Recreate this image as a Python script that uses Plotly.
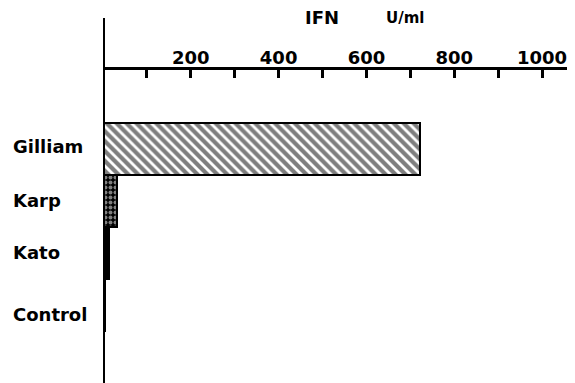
import plotly.graph_objects as go

categories = ["Gilliam", "Karp", "Kato", "Control"]
ifn_values = [722, 32, 14, 5]
tick_values = [100, 200, 300, 400, 500, 600, 700, 800, 900, 1000]
tick_labels = ["", "200", "", "400", "", "600", "", "800", "", "1000"]

FONT = "DejaVu Sans"

patterns = [
    dict(shape="\\", size=7, solidity=0.6, fgcolor="black", bgcolor="white"),
    dict(shape=".", size=5, solidity=0.5, fgcolor="white", bgcolor="black"),
    dict(shape="", fgcolor="black", bgcolor="black"),
    dict(shape="", fgcolor="black", bgcolor="black"),
]

fig = go.Figure()
for cat, val, pat in zip(categories, ifn_values, patterns):
    fig.add_trace(go.Bar(
        x=[val], y=[cat], orientation="h",
        marker=dict(color="black" if pat["shape"] == "" else "white",
                    pattern=pat,
                    line=dict(color="black", width=2)),
        showlegend=False, hoverinfo="skip",
    ))

# the page body adds an 8px offset, so the figure is 8px smaller on each side
fig.update_layout(
    width=567, height=375,
    margin=dict(l=95, r=0, t=62, b=0, autoexpand=False),
    paper_bgcolor="white", plot_bgcolor="white",
    bargap=0, barmode="overlay",
    font=dict(family=FONT, color="black"),
    xaxis=dict(
        range=[0, 1075], side="top", showgrid=False, zeroline=False,
        showline=True, linecolor="black", linewidth=3, automargin=False,
        tickvals=tick_values, ticktext=tick_labels,
        ticks="inside", ticklen=8, tickwidth=2.5, tickcolor="black",
        tickfont=dict(family=FONT, size=18, weight="bold", color="black"),
        ticklabelstandoff=-4,
    ),
    yaxis=dict(
        categoryorder="array", categoryarray=categories, automargin=False,
        range=[4.5, -1.52], showgrid=False, zeroline=False,
        showticklabels=False, showline=False, ticks="",
    ),
    shapes=[dict(type="line", xref="x", yref="paper", x0=0, x1=0,
                 y0=0, y1=1.166, line=dict(color="black", width=4))],
)

label_shift = {"Gilliam": 3, "Karp": 1, "Kato": 1, "Control": -9}
for cat in categories:
    fig.add_annotation(
        x=(3 - 95) / 472, xref="paper", y=cat, yref="y",
        text=cat, showarrow=False, xanchor="left", yanchor="middle",
        yshift=label_shift.get(cat, 0),
        font=dict(family=FONT, size=18, weight="bold", color="black"),
    )

fig.add_annotation(x=499, xref="x", y=1.168, yref="paper", text="IFN",
                   showarrow=False, xanchor="center", yanchor="middle",
                   font=dict(family=FONT, size=18, weight="bold", color="black"))
fig.add_annotation(x=688, xref="x", y=1.165, yref="paper", text="U/ml",
                   showarrow=False, xanchor="center", yanchor="middle",
                   font=dict(family=FONT, size=15, weight="bold", color="black"))

fig.write_html("out.html")
